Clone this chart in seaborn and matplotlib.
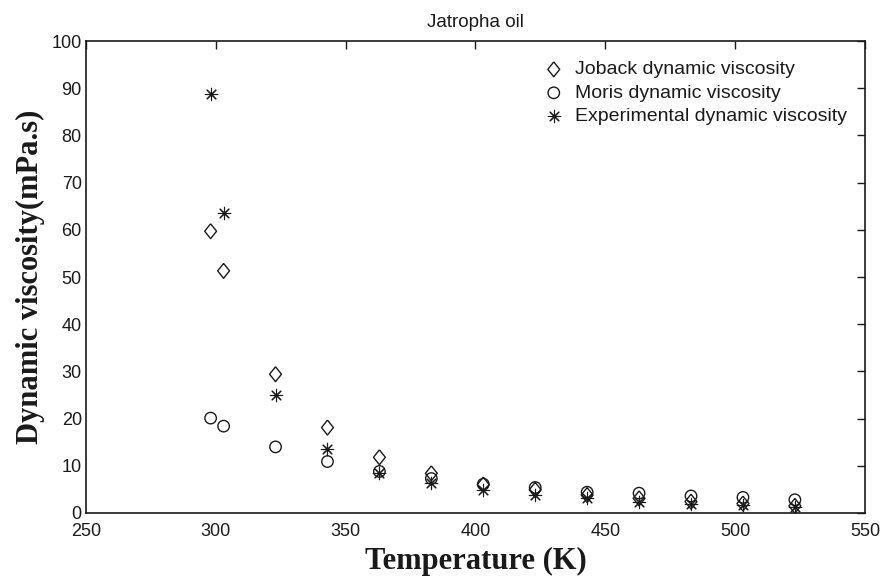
import numpy as np
import pandas as pd
import matplotlib
matplotlib.use("Agg")
import matplotlib.pyplot as plt
import seaborn as sns

temperature = [298, 303, 323, 343, 363, 383, 403, 423, 443, 463, 483, 503, 523]
joback = [59.7, 51.3, 29.4, 18.1, 11.8, 8.4, 6.0, 4.9, 3.8, 3.1, 2.4, 2.0, 1.5]
moris = [20.1, 18.4, 14.0, 10.9, 8.8, 7.3, 6.1, 5.4, 4.4, 4.2, 3.6, 3.3, 2.8]
experimental = [88.8, 63.5, 25.0, 13.5, 8.4, 6.3, 4.9, 3.8, 3.1, 2.4, 2.0, 1.7, 1.3]

labels = [
    "Joback dynamic viscosity",
    "Moris dynamic viscosity",
    "Experimental dynamic viscosity",
]

sns.set_theme(style="white")
plt.rcParams["font.family"] = ["Liberation Sans", "DejaVu Sans"]
plt.rcParams["text.color"] = "black"
plt.rcParams["axes.labelcolor"] = "black"
plt.rcParams["xtick.color"] = "black"
plt.rcParams["ytick.color"] = "black"

# MATLAB-like markers: narrow diamond, open circle, asterisk
diamond = [(0, 1), (0.8, 0), (0, -1), (-0.8, 0), (0, 1)]
markers = [diamond, "o", (8, 2, 0)]
sizes = [115, 68, 80]
faces = ["none", "none", "k"]
widths = [1.0, 1.0, 0.8]

fig = plt.figure(figsize=(8.9, 5.78), dpi=100)
ax = fig.add_axes([0.0966, 0.1125, 0.8753, 0.8165])

for vals, lab, m, s, fc, lw in zip([joback, moris, experimental], labels,
                                   markers, sizes, faces, widths):
    kw = dict(facecolor=fc)
    if fc == "none":
        kw["edgecolor"] = "k"
    sns.scatterplot(
        x=temperature,
        y=vals,
        ax=ax,
        marker=m,
        s=s,
        color="k",
        linewidth=lw,
        label=lab,
        **kw,
    )

ax.set_xlim(250, 550)
ax.set_ylim(0, 100)
ax.set_xticks(np.arange(250, 551, 50))
ax.set_yticks(np.arange(0, 101, 10))

for sp in ax.spines.values():
    sp.set_visible(True)
    sp.set_color("k")
    sp.set_linewidth(1.2)

ax.tick_params(
    direction="in", length=6, width=1, colors="k",
    top=True, right=True, labelsize=13,
)
ax.tick_params(axis="x", pad=7)
ax.tick_params(axis="y", pad=3)

ax.set_title("Jatropha oil", fontsize=13.5, pad=10, color="k")
ax.set_xlabel("Temperature (K)", fontsize=22, fontweight="bold",
              family="Liberation Serif", labelpad=5, color="k")
ax.set_ylabel("Dynamic viscosity(mPa.s)", fontsize=22, fontweight="bold",
              family="Liberation Serif", labelpad=5, color="k")

leg = ax.legend(
    loc="upper left",
    bbox_to_anchor=(0.588, 0.958),
    frameon=False,
    fontsize=14,
    borderpad=0,
    borderaxespad=0,
    handlelength=1.0,
    handletextpad=0.58,
    labelspacing=0.3,
    scatterpoints=1,
)
for t in leg.get_texts():
    t.set_color("k")

fig.savefig("out.png", dpi=100)
